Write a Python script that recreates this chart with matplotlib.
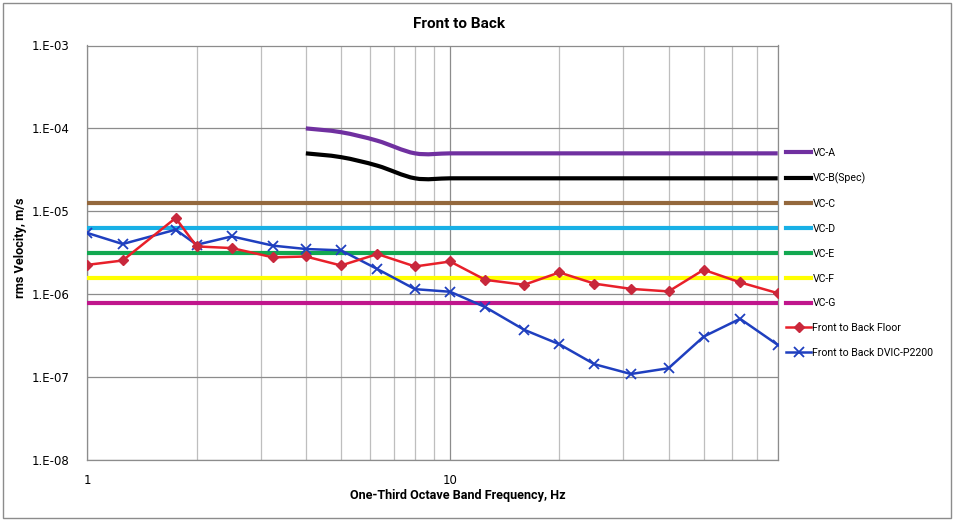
import numpy as np
import matplotlib
matplotlib.use("Agg")
import matplotlib.pyplot as plt
from matplotlib.path import Path
from matplotlib.patches import PathPatch, Rectangle
from matplotlib.lines import Line2D
from matplotlib.ticker import NullFormatter, FixedLocator, FixedFormatter, LogLocator

# ---------------- data ----------------
freq = [1, 1.25, 1.75, 2, 2.5, 3.25, 4, 5, 6.3, 8, 10, 12.5, 16, 20, 25, 31.5, 40, 50, 63, 80]
floor = [2.26e-6, 2.55e-6, 8.3e-6, 3.77e-6, 3.6e-6, 2.78e-6, 2.85e-6, 2.22e-6, 3.05e-6, 2.16e-6,
         2.48e-6, 1.49e-6, 1.30e-6, 1.83e-6, 1.34e-6, 1.16e-6, 1.08e-6, 1.97e-6, 1.39e-6, 1.03e-6]
dvic = [5.47e-6, 4.03e-6, 6.0e-6, 3.95e-6, 4.98e-6, 3.85e-6, 3.51e-6, 3.38e-6, 2.01e-6, 1.15e-6,
        1.07e-6, 6.98e-7, 3.72e-7, 2.49e-7, 1.43e-7, 1.09e-7, 1.28e-7, 3.08e-7, 5.05e-7, 2.45e-7]

vc_freq = [4, 5, 6.3, 8, 10, 12.5, 16, 20, 25, 31.5, 40, 50, 63, 80]
vc_a = [1.0e-4, 9.0e-5, 7.1e-5, 5.0e-5] + [5.0e-5] * 10
vc_b = [5.0e-5, 4.5e-5, 3.55e-5, 2.5e-5] + [2.5e-5] * 10

flat_freq = [1, 80]
vc_c = [1.25e-5, 1.25e-5]
vc_d = [6.25e-6, 6.25e-6]
vc_e = [3.125e-6, 3.125e-6]
vc_f = [1.5625e-6, 1.5625e-6]
vc_g = [7.8e-7, 7.8e-7]

labels = ["VC-A", "VC-B(Spec)", "VC-C", "VC-D", "VC-E", "VC-F", "VC-G",
          "Front to Back Floor", "Front to Back DVIC-P2200"]
colors = ["#7030A0", "#000000", "#94683C", "#18B0E6", "#12A850", "#FFFF00", "#C0168C",
          "#E8202A", "#1F3FBF"]

xticks = [1, 10]
xticklabels = ["1", "10"]
yticks = [1e-8, 1e-7, 1e-6, 1e-5, 1e-4, 1e-3]
yticklabels = ["1.E-08", "1.E-07", "1.E-06", "1.E-05", "1.E-04", "1.E-03"]

title = "Front to Back"
xlabel = "One-Third Octave Band Frequency, Hz"
ylabel = "rms Velocity, m/s"

# ---------------- figure ----------------
W, H = 954, 521
fig = plt.figure(figsize=(W / 100, H / 100), dpi=100)
ax = fig.add_axes([87.5 / W, 1 - 460 / H, (777.7 - 87.5) / W, (460 - 45.5) / H])
ax.set_xscale("log")
ax.set_yscale("log")
ax.set_xlim(1, 80)
ax.set_ylim(1e-8, 1e-3)


def smooth_path(xs, ys):
    """Excel-like smoothed line (Catmull-Rom Bezier) built in log space."""
    X = np.log10(np.asarray(xs, float))
    Y = np.log10(np.asarray(ys, float))
    n = len(X)
    verts = [(xs[0], ys[0])]
    codes = [Path.MOVETO]
    for i in range(n - 1):
        p0 = (X[i - 1], Y[i - 1]) if i > 0 else (X[i], Y[i])
        p1 = (X[i], Y[i])
        p2 = (X[i + 1], Y[i + 1])
        p3 = (X[i + 2], Y[i + 2]) if i + 2 < n else (X[i + 1], Y[i + 1])
        c1 = (p1[0] + (p2[0] - p0[0]) / 6, p1[1] + (p2[1] - p0[1]) / 6)
        c2 = (p2[0] - (p3[0] - p1[0]) / 6, p2[1] - (p3[1] - p1[1]) / 6)
        for c in (c1, c2, p2):
            verts.append((10 ** c[0], 10 ** c[1]))
        codes += [Path.CURVE4] * 3
    return Path(verts, codes)


lw_vc = 3.0
for ys, col in ((vc_a, colors[0]), (vc_b, colors[1])):
    ax.add_patch(PathPatch(smooth_path(vc_freq, ys), fill=False, edgecolor=col,
                           lw=lw_vc, capstyle="butt", zorder=3))

for ys, col in zip((vc_c, vc_d, vc_e, vc_f, vc_g), colors[2:7]):
    ax.plot(flat_freq, ys, color=col, lw=lw_vc, solid_capstyle="butt", zorder=3)

ax.plot(freq, floor, color=colors[7], lw=1.8, marker="D", markersize=5,
        markerfacecolor="#C8283C", markeredgecolor="#C8283C", zorder=5)
ax.plot(freq, dvic, color=colors[8], lw=1.8, marker="x", markersize=7,
        markeredgewidth=1.3, zorder=4)

# ticks & grid
ax.xaxis.set_major_locator(FixedLocator(xticks))
ax.xaxis.set_major_formatter(FixedFormatter(xticklabels))
ax.xaxis.set_minor_locator(LogLocator(base=10, subs=np.arange(2, 10), numticks=20))
ax.xaxis.set_minor_formatter(NullFormatter())
ax.yaxis.set_major_locator(FixedLocator(yticks))
ax.yaxis.set_major_formatter(FixedFormatter(yticklabels))
ax.yaxis.set_minor_locator(FixedLocator([]))
ax.grid(True, which="major", axis="both", color="#8C8C8C", lw=0.9, zorder=0)
ax.grid(True, which="minor", axis="x", color="#BEBEBE", lw=0.9, zorder=0)
ax.set_axisbelow(True)
for s in ax.spines.values():
    s.set_color("#8C8C8C")
    s.set_linewidth(0.9)
ax.tick_params(axis="both", which="both", length=0, labelsize=8.5, colors="#000000")
ax.tick_params(axis="y", pad=13)
ax.tick_params(axis="x", pad=10)

cond = dict(family="Roboto")

# texts
t_title = fig.text(459 / W, 1 - 24 / H, title, ha="center", va="center", fontsize=11,
                   fontweight="bold", **cond)
t_x = fig.text(458 / W, 1 - 496 / H, xlabel, ha="center", va="center", fontsize=10.5,
               fontweight="bold", **cond)
t_y = fig.text(21 / W, 1 - 248 / H, ylabel, ha="center", va="center", rotation=90,
               fontsize=10.5, fontweight="bold", **cond)

renderer = fig.canvas.get_renderer()


def fit(t, target, vertical=False):
    bb = t.get_window_extent(renderer)
    size = bb.height if vertical else bb.width
    t.set_fontsize(t.get_fontsize() * target / size)


fit(t_title, 92)
fit(t_x, 218)
fit(t_y, 101, vertical=True)

# legend
handles = [Line2D([], [], color=c, lw=lw_vc) for c in colors[:7]]
handles.append(Line2D([], [], color=colors[7], lw=1.8, marker="D", markersize=5,
                      markerfacecolor="#C8283C", markeredgecolor="#C8283C"))
handles.append(Line2D([], [], color=colors[8], lw=1.8, marker="x", markersize=7,
                      markeredgewidth=1.3))

probe = fig.text(0, 0, labels[-1], fontsize=9, **cond)
bb = probe.get_window_extent(renderer)
leg_size = 9 * 122 / bb.width
probe.remove()

fs_px = leg_size * 100 / 72


def make_legend(spacing, top):
    return fig.legend(handles, labels, loc="upper left",
                      bbox_to_anchor=(786 / W, top),
                      frameon=False, prop=dict(size=leg_size, **cond),
                      handlelength=25 / fs_px, handletextpad=1.5 / fs_px,
                      labelspacing=spacing, borderaxespad=0, borderpad=0)


leg = make_legend(1.0, 1 - 146 / H)
fig.canvas.draw()
texts = leg.get_texts()
y0 = texts[0].get_window_extent(renderer).y0
y1 = texts[-1].get_window_extent(renderer).y0
cur = (y0 - y1) / 8
leg.remove()
leg = make_legend(1.0 + (25 - cur) / fs_px, 1 - 146 / H)
fig.canvas.draw()
tb = leg.get_texts()[0].get_window_extent(renderer)
cy = (tb.y0 + tb.y1) / 2
dy = (H - 153) - cy
leg.set_bbox_to_anchor((786 / W, 1 - 146 / H + dy / H), transform=fig.transFigure)

# outer border
fig.patches.append(Rectangle((2.5 / W, 1 - 517.7 / H), (950.7 - 2.5) / W, (517.7 - 3.3) / H,
                             transform=fig.transFigure, fill=False, edgecolor="#8C8C8C", lw=1.0))

fig.savefig("out.png", dpi=100)
